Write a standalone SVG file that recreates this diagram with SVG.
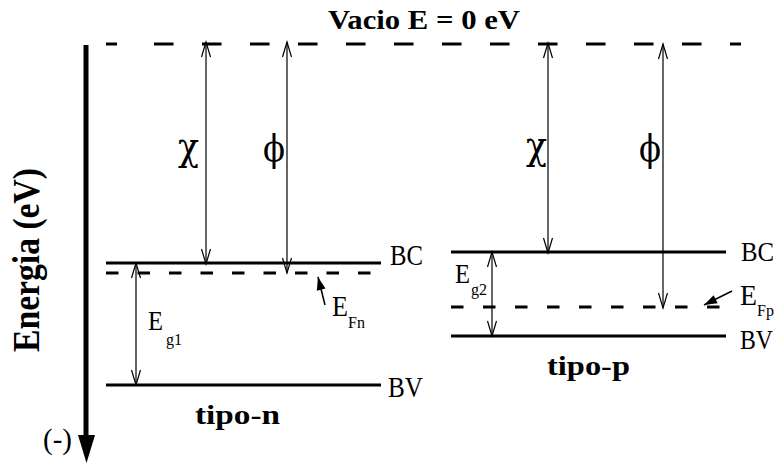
<svg xmlns="http://www.w3.org/2000/svg" width="778" height="463" viewBox="0 0 778 463">
<defs>
<style>
.lvl{stroke:#000;stroke-width:3;fill:none}
.dash{stroke:#000;stroke-width:3;fill:none}
.thin{stroke:#000;stroke-width:1.2;fill:none;marker-start:url(#open);marker-end:url(#open)}
.t{font-family:"Liberation Serif","Times New Roman",serif;fill:#000}
.s{font-family:"Liberation Serif","Times New Roman",serif;fill:#000;font-size:16px}
.g{font-family:"DejaVu Serif",serif;fill:#000}
.b{font-family:"Liberation Serif","Times New Roman",serif;font-weight:bold;fill:#000}
</style>
<marker id="open" markerUnits="userSpaceOnUse" viewBox="-16 -6 18 12" refX="0" refY="0" markerWidth="18" markerHeight="12" orient="auto-start-reverse">
<path d="M-15,-4.5 L0,0 L-15,4.5" fill="none" stroke="#000" stroke-width="1.2"/>
</marker>
<marker id="solid" markerUnits="userSpaceOnUse" viewBox="-14 -5 15 10" refX="0" refY="0" markerWidth="15" markerHeight="10" orient="auto">
<path d="M-13,-4.5 L0,0 L-13,4.5 Z" fill="#000"/>
</marker>
</defs>
<rect width="778" height="463" fill="#fff"/>

<g id="axis">
<line x1="86" y1="45" x2="86" y2="440" stroke="#000" stroke-width="5"/>
<polygon points="78,435 95,435 86.5,463" fill="#000"/>
<text class="b" font-size="38" transform="translate(39,260) rotate(-90)" text-anchor="middle" textLength="184" lengthAdjust="spacingAndGlyphs">Energia (eV)</text>
<text class="t" x="43" y="449" font-size="30" textLength="29" lengthAdjust="spacingAndGlyphs">(-)</text>
</g>

<g id="vacuum">
<line x1="106" y1="44" x2="117" y2="44" stroke="#000" stroke-width="3"/>
<line x1="154" y1="44" x2="741" y2="44" stroke="#000" stroke-width="3" stroke-dasharray="19.5 28.5"/>
<text class="b" x="328" y="29" font-size="28" textLength="192" lengthAdjust="spacingAndGlyphs">Vacio E = 0 eV</text>
</g>

<g id="tipo-n">
<line class="lvl" x1="106" y1="263" x2="381" y2="263"/>
<line class="dash" x1="106" y1="273" x2="377" y2="273" stroke-dasharray="12.5 19"/>
<line class="lvl" x1="106" y1="385" x2="381" y2="385"/>
<text class="t" x="390" y="265" font-size="29" textLength="33" lengthAdjust="spacingAndGlyphs">BC</text>
<text class="t" x="388" y="397" font-size="29" textLength="35" lengthAdjust="spacingAndGlyphs">BV</text>
<text class="t" x="332" y="316" font-size="30" textLength="16" lengthAdjust="spacingAndGlyphs">E</text>
<text class="s" x="348" y="328">Fn</text>
<text class="t" x="148" y="330" font-size="27" textLength="15" lengthAdjust="spacingAndGlyphs">E</text>
<text class="s" x="166" y="345">g1</text>
<text class="b" x="195" y="424" font-size="28" textLength="85" lengthAdjust="spacingAndGlyphs">tipo-n</text>
<text class="g" x="178" y="160" font-size="40" textLength="21" lengthAdjust="spacingAndGlyphs">χ</text>
<text class="g" x="263" y="161" font-size="37" textLength="22" lengthAdjust="spacingAndGlyphs">ϕ</text>
</g>

<g id="tipo-p">
<line class="lvl" x1="451" y1="252" x2="726" y2="252"/>
<line class="dash" x1="451" y1="307" x2="722" y2="307" stroke-dasharray="12.5 19.5"/>
<line class="lvl" x1="451" y1="336" x2="726" y2="336"/>
<text class="t" x="741" y="261" font-size="28" textLength="33" lengthAdjust="spacingAndGlyphs">BC</text>
<text class="t" x="740" y="349" font-size="28" textLength="33" lengthAdjust="spacingAndGlyphs">BV</text>
<text class="t" x="740" y="305" font-size="29" textLength="17" lengthAdjust="spacingAndGlyphs">E</text>
<text class="s" x="757" y="316">Fp</text>
<text class="t" x="455" y="283" font-size="28" textLength="15" lengthAdjust="spacingAndGlyphs">E</text>
<text class="s" x="471" y="295">g2</text>
<text class="b" x="547" y="375" font-size="28" textLength="83" lengthAdjust="spacingAndGlyphs">tipo-p</text>
<text class="g" x="526" y="159" font-size="40" textLength="21" lengthAdjust="spacingAndGlyphs">χ</text>
<text class="g" x="639" y="161" font-size="37" textLength="22" lengthAdjust="spacingAndGlyphs">ϕ</text>
</g>

<g id="connectors">
<line class="thin" x1="206" y1="42" x2="206" y2="264"/>
<line class="thin" x1="287" y1="42" x2="287" y2="273"/>
<line class="thin" x1="136" y1="263" x2="136" y2="385"/>
<line class="thin" x1="548" y1="43" x2="548" y2="253"/>
<line class="thin" x1="663" y1="44" x2="663" y2="308"/>
<line class="thin" x1="492" y1="252" x2="492" y2="336"/>
<line x1="325" y1="305" x2="318" y2="277" stroke="#000" stroke-width="1.5" marker-end="url(#solid)"/>
<line x1="732" y1="291" x2="704" y2="305" stroke="#000" stroke-width="1.5" marker-end="url(#solid)"/>
</g>
</svg>
